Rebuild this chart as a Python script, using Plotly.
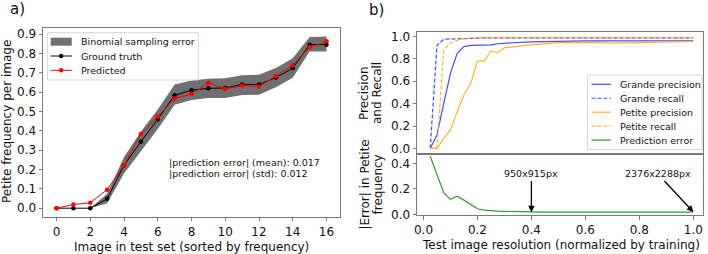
import plotly.graph_objects as go

# ---------------- data: panel a ----------------
image_idx = list(range(17))
ground_truth = [0.0, 0.0, 0.0, 0.049, 0.222, 0.344, 0.46, 0.584, 0.61, 0.62, 0.622, 0.64, 0.64, 0.676, 0.724, 0.846, 0.846]
predicted = [0.0, 0.019, 0.028, 0.096, 0.222, 0.384, 0.474, 0.568, 0.59, 0.648, 0.617, 0.634, 0.629, 0.683, 0.74, 0.832, 0.863]
band_lower = [0.0, 0.0, 0.0, 0.025, 0.18, 0.295, 0.41, 0.535, 0.56, 0.57, 0.57, 0.585, 0.587, 0.625, 0.675, 0.81, 0.81]
band_upper = [0.0, 0.0, 0.0, 0.075, 0.265, 0.395, 0.51, 0.64, 0.66, 0.67, 0.672, 0.688, 0.69, 0.725, 0.775, 0.885, 0.888]
a_xticks = [0, 2, 4, 6, 8, 10, 12, 14, 16]
a_yticks = [0.0, 0.1, 0.2, 0.3, 0.4, 0.5, 0.6, 0.7, 0.8, 0.9]

# ---------------- data: panel b ----------------
resolution = [0.025, 0.05, 0.075, 0.1, 0.125, 0.15, 0.175, 0.2, 0.225, 0.25, 0.275, 0.3,
              0.325, 0.35, 0.375, 0.4, 0.45, 0.5, 0.6, 0.7, 0.8, 0.9, 1.0]
grande_precision = [0.0, 0.12, 0.40, 0.67, 0.85, 0.91, 0.92, 0.92, 0.92, 0.925, 0.935, 0.94,
                    0.945, 0.948, 0.95, 0.952, 0.955, 0.958, 0.96, 0.96, 0.96, 0.96, 0.962]
grande_recall = [0.0, 0.92, 0.975, 0.978, 0.98, 0.983, 0.985, 0.986, 0.987, 0.987, 0.988, 0.988,
                 0.988, 0.988, 0.988, 0.988, 0.988, 0.988, 0.988, 0.988, 0.988, 0.988, 0.988]
petite_precision = [0.0, 0.0, 0.09, 0.165, 0.33, 0.48, 0.58, 0.78, 0.78, 0.87, 0.855, 0.90,
                    0.905, 0.915, 0.92, 0.925, 0.935, 0.945, 0.948, 0.94, 0.945, 0.95, 0.955]
petite_recall = [0.0, 0.0, 0.88, 0.94, 0.965, 0.98, 0.985, 0.99, 0.99, 0.99, 0.99, 0.99,
                 0.99, 0.99, 0.99, 0.99, 0.99, 0.99, 0.99, 0.99, 0.99, 0.99, 0.99]
prediction_error = [0.457, 0.308, 0.17, 0.118, 0.143, 0.112, 0.078, 0.044, 0.034, 0.028, 0.026, 0.024,
                    0.022, 0.02, 0.019, 0.017, 0.017, 0.017, 0.017, 0.017, 0.017, 0.017, 0.017]
b_xticks = [0.0, 0.2, 0.4, 0.6, 0.8, 1.0]
b_top_yticks = [0.0, 0.2, 0.4, 0.6, 0.8, 1.0]
b_bot_yticks = [0.0, 0.2, 0.4]

W, H = 708, 254
FONT = "DejaVu Sans"
BAND = "rgb(112,112,112)"
BLUE = "rgb(72,72,255)"
ORANGE = "rgb(255,178,48)"
GREEN = "rgb(55,150,55)"
AXC = "#7a7a7a"


def px_x(p):
    return p / W


def px_y(p):
    return 1 - p / H


fig = go.Figure()

# panel a
fig.add_trace(go.Scatter(x=image_idx, y=band_lower, mode="lines", line=dict(width=0),
                         showlegend=False, hoverinfo="skip", xaxis="x", yaxis="y"))
fig.add_trace(go.Scatter(x=image_idx, y=band_upper, mode="lines", line=dict(width=0),
                         fill="tonexty", fillcolor=BAND, name="Binomial sampling error",
                         showlegend=False, xaxis="x", yaxis="y"))
fig.add_trace(go.Scatter(x=image_idx, y=ground_truth, mode="lines+markers", name="Ground truth",
                         line=dict(color="black", width=1), marker=dict(color="black", size=4.5),
                         showlegend=False, xaxis="x", yaxis="y"))
fig.add_trace(go.Scatter(x=image_idx, y=predicted, mode="lines+markers", name="Predicted",
                         line=dict(color="red", width=1), marker=dict(color="red", size=4.5),
                         showlegend=False, xaxis="x", yaxis="y"))

# panel b top
b_series = [
    ("Grande precision", grande_precision, BLUE, "solid"),
    ("Grande recall", grande_recall, BLUE, "4px,2px"),
    ("Petite precision", petite_precision, ORANGE, "solid"),
    ("Petite recall", petite_recall, ORANGE, "4px,2px"),
]
for name, vals, col, dash in b_series:
    fig.add_trace(go.Scatter(x=resolution, y=vals, mode="lines", name=name,
                             line=dict(color=col, width=1.2, dash=dash),
                             showlegend=False, xaxis="x2", yaxis="y2"))
# panel b bottom
fig.add_trace(go.Scatter(x=resolution, y=prediction_error, mode="lines", name="Prediction error",
                         line=dict(color=GREEN, width=1.2), showlegend=False,
                         xaxis="x3", yaxis="y3"))

axis_common = dict(showline=True, mirror=True, linecolor=AXC, linewidth=1, showgrid=False,
                   zeroline=False, ticklen=3.5, tickwidth=0.8, tickcolor=AXC, automargin=False,
                   tickfont=dict(family=FONT, size=12, color="#111"))

fig.update_layout(
    width=W, height=H, margin=dict(l=0, r=0, t=0, b=0, autoexpand=False),
    paper_bgcolor="white", plot_bgcolor="white", showlegend=False,
    font=dict(family=FONT, size=12, color="#111"),
    xaxis=dict(domain=[px_x(43), px_x(340)], anchor="y", range=[-0.8, 16.8],
               tickvals=a_xticks, ticks="outside", **axis_common),
    yaxis=dict(domain=[px_y(216.7), px_y(28)], anchor="x", range=[-0.044, 0.932],
               tickvals=a_yticks, tickformat=".1f", ticks="outside", **axis_common),
    xaxis2=dict(domain=[px_x(417), px_x(703)], anchor="y2", range=[-0.024, 1.036],
                tickvals=b_xticks, showticklabels=False, matches="x3", ticks="", **axis_common),
    yaxis2=dict(domain=[px_y(154), px_y(32)], anchor="x2", range=[-0.05, 1.04],
                tickvals=b_top_yticks, tickformat=".1f", ticks="outside", **axis_common),
    xaxis3=dict(domain=[px_x(417), px_x(703)], anchor="y3", range=[-0.024, 1.036],
                tickvals=b_xticks, tickformat=".1f", ticks="outside", **axis_common),
    yaxis3=dict(domain=[px_y(215), px_y(154)], anchor="x3", range=[-0.005, 0.475],
                tickvals=b_bot_yticks, tickformat=".1f", ticks="outside", **axis_common),
)

shapes = []
annotations = []


def txt(text, x, y, size=12, xanchor="center", yanchor="middle", angle=0, xref="paper", yref="paper"):
    annotations.append(dict(text=text, x=x, y=y, xref=xref, yref=yref, showarrow=False,
                            xanchor=xanchor, yanchor=yanchor, textangle=angle,
                            font=dict(family=FONT, size=size, color="#111")))


# panel labels & axis titles
txt("a)", px_x(17), px_y(9), size=15)
txt("b)", px_x(377), px_y(10), size=15)
txt("Petite frequency per image", px_x(7), px_y(122), angle=-90)
txt("Image in test set (sorted by frequency)", px_x(191), px_y(247))
txt("Test image resolution (normalized by training)", px_x(561), px_y(245))
txt("Precision", px_x(364), px_y(93), angle=-90)
txt("and Recall", px_x(377), px_y(93), angle=-90)
txt("|Error| in Petite", px_x(364), px_y(184.5), angle=-90)
txt("frequency", px_x(377), px_y(184.5), angle=-90)

# statistics text in panel a
txt("|prediction error| (mean): 0.017", 6.56, 0.236, size=9.5, xanchor="left", xref="x", yref="y")
txt("|prediction error| (std): 0.012", 6.56, 0.179, size=9.5, xanchor="left", xref="x", yref="y")

# arrows in panel b bottom
for label, tipx, tipy, tx, ty in [("950x915px", 0.4, 0.017, 0.4, 0.318),
                                  ("2376x2288px", 1.0, 0.019, 0.869, 0.318)]:
    annotations.append(dict(text=label, x=tipx, y=tipy, xref="x3", yref="y3",
                            ax=tx, ay=ty, axref="x3", ayref="y3", showarrow=True,
                            arrowhead=2, arrowsize=1, arrowwidth=1.3, arrowcolor="black",
                            standoff=0, startstandoff=0,
                            font=dict(family=FONT, size=9.5, color="#111")))

# ---- manual legend, panel a ----
shapes.append(dict(type="rect", xref="paper", yref="paper", x0=px_x(47.3), x1=px_x(198.3),
                   y0=px_y(80), y1=px_y(32.7), line=dict(color="#d6d6d6", width=1),
                   fillcolor="rgba(255,255,255,0.85)"))
a_leg = [("Binomial sampling error", "patch", BAND), ("Ground truth", "line", "black"),
         ("Predicted", "line", "red")]
for i, (name, kind, col) in enumerate(a_leg):
    yc = 41.7 + 14.3 * i
    if kind == "patch":
        shapes.append(dict(type="rect", xref="paper", yref="paper", x0=px_x(50.7), x1=px_x(71.7),
                           y0=px_y(yc + 4), y1=px_y(yc - 4), line=dict(width=0), fillcolor=col))
    else:
        shapes.append(dict(type="line", xref="paper", yref="paper", x0=px_x(50.7), x1=px_x(71.7),
                           y0=px_y(yc), y1=px_y(yc), line=dict(color=col, width=1)))
        shapes.append(dict(type="circle", xref="paper", yref="paper", x0=px_x(59), x1=px_x(63.4),
                           y0=px_y(yc + 2.2), y1=px_y(yc - 2.2), line=dict(width=0), fillcolor=col))
    txt(name, px_x(79), px_y(yc), size=9.5, xanchor="left")

# ---- manual legend, panel b ----
shapes.append(dict(type="rect", xref="paper", yref="paper", x0=px_x(587.5), x1=px_x(702),
                   y0=px_y(149.5), y1=px_y(75), line=dict(color="#d6d6d6", width=1),
                   fillcolor="rgba(255,255,255,0.85)"))
b_leg = [(n, c, d) for n, _, c, d in b_series] + [("Prediction error", GREEN, "solid")]
for i, (name, col, dash) in enumerate(b_leg):
    yc = 84.3 + 13.95 * i
    shapes.append(dict(type="line", xref="paper", yref="paper", x0=px_x(591.5), x1=px_x(611),
                       y0=px_y(yc), y1=px_y(yc), line=dict(color=col, width=1.2, dash=dash)))
    txt(name, px_x(618.3), px_y(yc), size=9.5, xanchor="left")

fig.update_layout(shapes=shapes, annotations=annotations)
fig.write_html("out.html", config={"displayModeBar": False},
               post_script="document.body.style.margin='0px';")
